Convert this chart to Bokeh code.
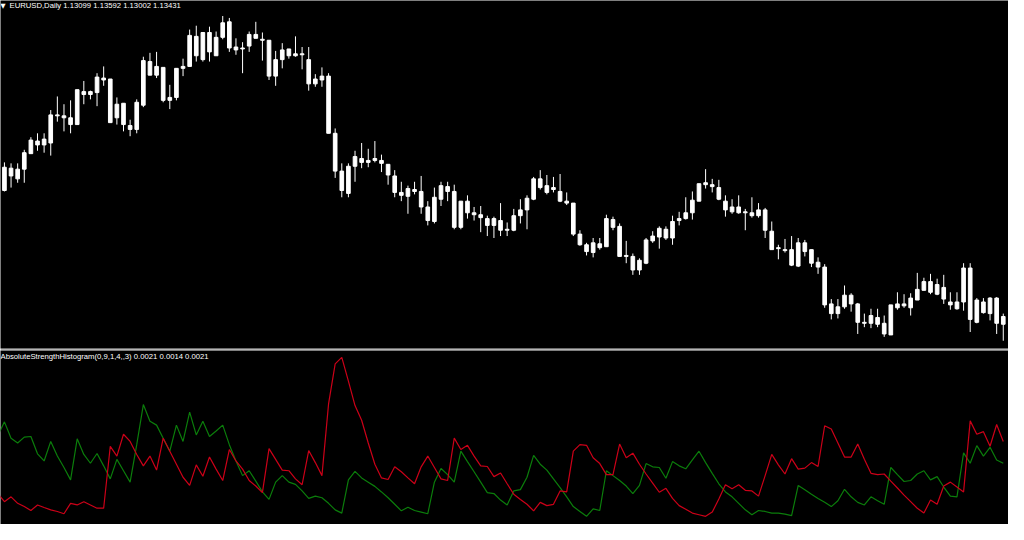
from bokeh.plotting import figure
from bokeh.layouts import column
from bokeh.models import Label, ColumnDataSource, Range1d
from bokeh.embed import file_html
from bokeh.resources import INLINE

# ---- EURUSD daily candles ----
high = [1.1799, 1.1796, 1.1796, 1.1838, 1.1877, 1.1889, 1.1889, 1.1961, 1.2003, 1.1979,
        1.1991, 1.2024, 1.2051, 1.2021, 1.2075, 1.2096, 1.2057, 1.2000, 1.1982, 1.1931,
        1.1994, 1.2126, 1.2138, 1.2141, 1.2093, 1.2039, 1.2090, 1.2120, 1.2210, 1.2222,
        1.2201, 1.2219, 1.2204, 1.2252, 1.2246, 1.2183, 1.2171, 1.2204, 1.2234, 1.2201,
        1.2177, 1.2144, 1.2168, 1.2150, 1.2189, 1.2156, 1.2156, 1.2072, 1.2093, 1.2075,
        1.1904, 1.1796, 1.1796, 1.1835, 1.1859, 1.1841, 1.1865, 1.1823, 1.1793, 1.1775,
        1.1739, 1.1727, 1.1739, 1.1757, 1.1679, 1.1721, 1.1739, 1.1739, 1.1730, 1.1679,
        1.1697, 1.1661, 1.1664, 1.1634, 1.1631, 1.1673, 1.1613, 1.1655, 1.1685, 1.1697,
        1.1754, 1.1775, 1.1760, 1.1754, 1.1763, 1.1706, 1.1673, 1.1589, 1.1550, 1.1565,
        1.1565, 1.1637, 1.1631, 1.1610, 1.1556, 1.1517, 1.1502, 1.1565, 1.1586, 1.1601,
        1.1601, 1.1634, 1.1646, 1.1691, 1.1709, 1.1733, 1.1778, 1.1748, 1.1745, 1.1697,
        1.1685, 1.1697, 1.1655, 1.1691, 1.1673, 1.1658, 1.1616, 1.1544, 1.1562, 1.1571,
        1.1565, 1.1559, 1.1529, 1.1505, 1.1484, 1.1376, 1.1376, 1.1418, 1.1394, 1.1364,
        1.1331, 1.1346, 1.1346, 1.1325, 1.1358, 1.1397, 1.1391, 1.1394, 1.1457, 1.1442,
        1.1454, 1.1439, 1.1451, 1.1397, 1.1397, 1.1487, 1.1487, 1.1379, 1.1379, 1.1382,
        1.1382, 1.1331]
closes = [1.1784, 1.1781, 1.1778, 1.1829, 1.1868, 1.1865, 1.1871, 1.1946, 1.1946, 1.1943,
          1.1937, 1.2024, 1.2018, 1.2018, 1.2063, 1.2060, 1.2057, 1.1979, 1.1982, 1.1913,
          1.1985, 1.2114, 1.2111, 1.2096, 1.2093, 1.2000, 1.2090, 1.2096, 1.2192, 1.2189,
          1.2201, 1.2201, 1.2186, 1.2231, 1.2234, 1.2156, 1.2153, 1.2195, 1.2195, 1.2180,
          1.2177, 1.2117, 1.2147, 1.2150, 1.2135, 1.2135, 1.2117, 1.2057, 1.2066, 1.2066,
          1.1889, 1.1772, 1.1787, 1.1817, 1.1811, 1.1805, 1.1811, 1.1805, 1.1793, 1.1757,
          1.1706, 1.1718, 1.1715, 1.1709, 1.1661, 1.1691, 1.1727, 1.1724, 1.1709, 1.1679,
          1.1679, 1.1643, 1.1637, 1.1625, 1.1625, 1.1619, 1.1592, 1.1634, 1.1652, 1.1688,
          1.1748, 1.1748, 1.1727, 1.1721, 1.1709, 1.1679, 1.1673, 1.1577, 1.1544, 1.1550,
          1.1547, 1.1625, 1.1622, 1.1601, 1.1511, 1.1508, 1.1496, 1.1559, 1.1571, 1.1595,
          1.1592, 1.1616, 1.1625, 1.1643, 1.1682, 1.1733, 1.1736, 1.1730, 1.1721, 1.1679,
          1.1661, 1.1661, 1.1646, 1.1643, 1.1652, 1.1652, 1.1586, 1.1535, 1.1529, 1.1529,
          1.1550, 1.1550, 1.1529, 1.1490, 1.1475, 1.1361, 1.1352, 1.1388, 1.1388, 1.1361,
          1.1304, 1.1325, 1.1319, 1.1301, 1.1358, 1.1361, 1.1361, 1.1379, 1.1406, 1.1430,
          1.1430, 1.1421, 1.1412, 1.1367, 1.1367, 1.1472, 1.1472, 1.1373, 1.1367, 1.1379,
          1.1379, 1.1322]
opens = [1.1712, 1.1757, 1.1748, 1.1778, 1.1826, 1.1853, 1.1853, 1.1859, 1.1943, 1.1937,
         1.1916, 1.1916, 1.2009, 1.2009, 1.2015, 1.2054, 1.1922, 1.1937, 1.1916, 1.1901,
         1.1901, 1.1976, 1.2069, 1.2069, 1.1991, 1.1991, 1.2000, 1.2090, 1.2096, 1.2129,
         1.2117, 1.2141, 1.2129, 1.2186, 1.2153, 1.2147, 1.2150, 1.2159, 1.2183, 1.2177,
         1.2066, 1.2066, 1.2117, 1.2129, 1.2129, 1.2132, 1.2042, 1.2042, 1.2054, 1.1889,
         1.1772, 1.1712, 1.1703, 1.1787, 1.1799, 1.1799, 1.1805, 1.1796, 1.1760, 1.1706,
         1.1697, 1.1694, 1.1709, 1.1661, 1.1619, 1.1616, 1.1685, 1.1709, 1.1598, 1.1598,
         1.1643, 1.1637, 1.1628, 1.1604, 1.1604, 1.1589, 1.1589, 1.1589, 1.1634, 1.1652,
         1.1685, 1.1721, 1.1706, 1.1715, 1.1679, 1.1673, 1.1577, 1.1544, 1.1523, 1.1520,
         1.1535, 1.1538, 1.1598, 1.1508, 1.1508, 1.1466, 1.1466, 1.1487, 1.1556, 1.1568,
         1.1565, 1.1565, 1.1619, 1.1625, 1.1643, 1.1679, 1.1730, 1.1724, 1.1685, 1.1652,
         1.1646, 1.1643, 1.1643, 1.1634, 1.1634, 1.1589, 1.1529, 1.1532, 1.1526, 1.1481,
         1.1478, 1.1523, 1.1487, 1.1475, 1.1358, 1.1331, 1.1331, 1.1352, 1.1361, 1.1304,
         1.1301, 1.1301, 1.1298, 1.1268, 1.1265, 1.1349, 1.1355, 1.1349, 1.1373, 1.1403,
         1.1397, 1.1391, 1.1376, 1.1358, 1.1346, 1.1367, 1.1313, 1.1304, 1.1334, 1.1331,
         1.1301, 1.1298]
low = [1.1709, 1.1721, 1.1736, 1.1736, 1.1826, 1.1835, 1.1829, 1.1820, 1.1925, 1.1895,
       1.1889, 1.1916, 1.1979, 1.1994, 1.1973, 1.2036, 1.1922, 1.1916, 1.1895, 1.1880,
       1.1889, 1.1970, 1.2069, 1.2060, 1.1985, 1.1964, 1.1991, 1.2066, 1.2096, 1.2111,
       1.2111, 1.2111, 1.2129, 1.2180, 1.2141, 1.2132, 1.2075, 1.2141, 1.2183, 1.2114,
       1.2054, 1.2036, 1.2090, 1.2120, 1.2126, 1.2087, 1.2021, 1.2033, 1.2033, 1.1889,
       1.1751, 1.1691, 1.1691, 1.1739, 1.1781, 1.1784, 1.1799, 1.1769, 1.1730, 1.1691,
       1.1679, 1.1640, 1.1700, 1.1640, 1.1604, 1.1610, 1.1664, 1.1679, 1.1592, 1.1592,
       1.1625, 1.1619, 1.1583, 1.1571, 1.1565, 1.1571, 1.1571, 1.1586, 1.1610, 1.1592,
       1.1682, 1.1715, 1.1700, 1.1706, 1.1676, 1.1667, 1.1571, 1.1541, 1.1511, 1.1505,
       1.1529, 1.1538, 1.1589, 1.1508, 1.1487, 1.1451, 1.1451, 1.1484, 1.1550, 1.1532,
       1.1559, 1.1544, 1.1604, 1.1622, 1.1622, 1.1679, 1.1718, 1.1706, 1.1682, 1.1631,
       1.1640, 1.1640, 1.1589, 1.1628, 1.1628, 1.1565, 1.1529, 1.1499, 1.1520, 1.1478,
       1.1475, 1.1508, 1.1475, 1.1454, 1.1349, 1.1313, 1.1316, 1.1346, 1.1337, 1.1268,
       1.1289, 1.1286, 1.1289, 1.1259, 1.1265, 1.1343, 1.1349, 1.1325, 1.1373, 1.1403,
       1.1391, 1.1388, 1.1361, 1.1343, 1.1343, 1.1340, 1.1274, 1.1301, 1.1331, 1.1310,
       1.1268, 1.1247]

# ---- AbsoluteStrengthHistogram lines (first value is the bar just left of the view) ----
bulls = [51.6, 60, 50, 47, 50.6, 51, 40.4, 36, 48, 39, 32,
         24.4, 49.6, 40, 34.6, 40.6, 33, 25, 37, 30, 23,
         46, 70.6, 60.4, 58, 50, 42, 58, 48, 66, 52,
         60.4, 51, 54.4, 58, 46, 36, 27, 30, 23.6, 17,
         12.4, 23, 27, 23, 21.6, 17.6, 13, 14.4, 13.4, 10,
         6, 4, 24.4, 29.6, 25.6, 23, 20.4, 17, 13.4, 9.4,
         5.4, 7.6, 5.6, 4.6, 3.6, 23, 31.4, 27.6, 23, 42,
         35.6, 29.4, 23, 16.6, 16, 12, 9, 17.6, 18.4, 26,
         39.4, 34, 30.4, 25, 19.6, 14, 8, 5, 2, 6.6,
         5.6, 30, 27, 24, 20.6, 16, 21, 34.4, 32.4, 32,
         25.4, 35.6, 33, 31.2, 36.6, 42, 35, 28.4, 22, 17,
         14, 10, 6, 3, 5.6, 5, 4, 4, 3.4, 2.4,
         21, 18.4, 15.6, 13, 10.6, 8, 11.6, 18.6, 14, 10.6,
         9, 14, 11.6, 9.4, 32, 27.6, 23.4, 24, 28, 30,
         24.4, 26.4, 20, 14.4, 14, 41, 34.6, 45.4, 39, 44.4, 36.6, 34.6]
bears = [16, 11, 14, 10, 8, 5.6, 9, 7.4, 6, 5, 3.6,
         10, 9, 11, 9, 7, 7, 45, 39, 52.4, 48,
         40, 33, 39, 30.4, 50, 42, 34, 26, 21, 33.6,
         26.6, 38.4, 31, 24, 43, 36, 31, 24, 20.6, 16.6,
         43.6, 37, 30.4, 30, 25, 21.4, 42.4, 35, 27, 71,
         95.6, 99.6, 85, 70, 61, 47, 34, 25.6, 24.6, 32.4,
         29.4, 25.6, 22, 32.4, 39, 32, 25, 24, 50, 43,
         45.6, 39, 33, 32.6, 26.4, 28.6, 22, 15.6, 12.4, 9.4,
         5.4, 10.6, 8.6, 9.4, 17.6, 17, 42, 46, 45.6, 38,
         34.4, 27.6, 27.6, 46.4, 38, 40.8, 34, 28, 22.4, 16.8,
         19.2, 13, 8.6, 6.4, 4, 3, 2, 4.6, 12.6, 21.4,
         19, 21.4, 18, 17.6, 14.4, 27, 40, 33.6, 28, 37.4,
         31, 31.6, 35, 32.6, 57.6, 55.6, 47, 38.4, 38.4, 46.4,
         37, 28.4, 27.6, 28, 23.6, 19.4, 15, 11, 7, 4,
         12, 9.4, 20.6, 23, 20, 17, 60.6, 52.4, 54, 45, 58.4, 48]

title_main = "EURUSD,Daily  1.13099 1.13592 1.13002 1.13431"
title_ind = "AbsoluteStrengthHistogram(0,9,1,4,,3) 0.0021 0.0014 0.0021"

n = len(high)
idx = list(range(n))
line_idx = list(range(-1, n))

W = 1008
FONT = "Liberation Sans"
xr = Range1d(-0.595, 151.79)

src = ColumnDataSource(dict(
    x=idx, high=high, low=low,
    top=[max(o, c) for o, c in zip(opens, closes)],
    bottom=[min(o, c) for o, c in zip(opens, closes)],
))

p1 = figure(width=W, height=350, x_range=xr, y_range=Range1d(1.1223, 1.23),
            output_backend="svg", toolbar_location=None,
            x_axis_type=None, y_axis_type=None, title=None,
            min_border_left=0, min_border_right=0, min_border_top=0, min_border_bottom=2,
            background_fill_color="black", border_fill_color="#b4b4b4",
            outline_line_color=None)
p1.segment(x0="x", y0="high", x1="x", y1="low", source=src, line_color="white", line_width=1)
p1.vbar(x="x", top="top", bottom="bottom", width=0.55, source=src,
        fill_color="white", line_color="white", line_width=1)
p1.add_layout(Label(x=0, y=1.2294, x_units="screen", y_units="data", text="\u25bc",
                    text_color="white", text_font_size="6.5px", text_font="DejaVu Sans",
                    text_baseline="top"))
p1.add_layout(Label(x=9, y=1.2299, x_units="screen", y_units="data", text=title_main,
                    text_color="white", text_font_size="7.7px", text_font=FONT,
                    text_baseline="top"))

p2 = figure(width=W, height=174, x_range=xr, y_range=Range1d(-3, 103.8),
            output_backend="svg", toolbar_location=None,
            x_axis_type=None, y_axis_type=None, title=None,
            min_border_left=0, min_border_right=0, min_border_top=0, min_border_bottom=0,
            background_fill_color="black", border_fill_color="black",
            outline_line_color=None)
p2.line(line_idx, bulls, line_color="#0b7d0b", line_width=1.2)
p2.line(line_idx, bears, line_color="#cc0018", line_width=1.2)
p2.add_layout(Label(x=0, y=102.8, x_units="screen", y_units="data", text=title_ind,
                    text_color="white", text_font_size="7.7px", text_font=FONT,
                    text_baseline="top"))

layout = column(p1, p2, spacing=0)
open("out.html", "w").write(file_html(layout, INLINE))
